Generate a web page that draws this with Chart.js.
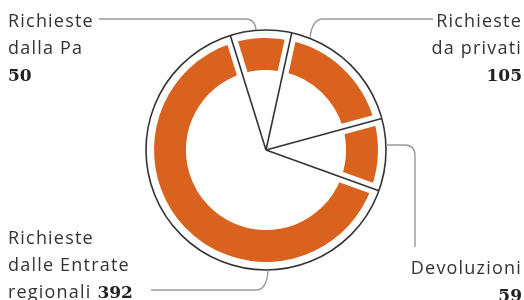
<!DOCTYPE html>
<html>
<head>
<meta charset="utf-8">
<script src="https://cdn.jsdelivr.net/npm/chart.js@4"></script>
<style>
  html, body { margin: 0; padding: 0; background: #fff; overflow: hidden; }
  #wrap { position: relative; width: 524px; height: 300px; }
  .lbl { position: absolute; font-family: "Open Sans", sans-serif; font-size: 18px; line-height: 27px; color: #333; letter-spacing: 1.2px; white-space: nowrap; }
  .lbl b { font-family: "DejaVu Serif", serif; font-weight: bold; font-size: 17px; letter-spacing: 0; color: #222; }
  .right { text-align: right; }
</style>
</head>
<body>
<div id="wrap">
  <canvas id="pieChart" width="524" height="300"></canvas>
  <div class="lbl" style="left:8px; top:7px;">Richieste<br>dalla Pa<br><b>50</b></div>
  <div class="lbl right" style="right:2px; top:7px;">Richieste<br>da privati<br><b>105</b></div>
  <div class="lbl right" style="right:2px; top:254px;">Devoluzioni<br><b>59</b></div>
  <div class="lbl" style="left:8px; top:224px;">Richieste<br>dalle Entrate<br>regionali <b>392</b></div>
</div>
<script>
const categories = ['Richieste dalla Pa', 'Richieste da privati', 'Devoluzioni', 'Richieste dalle Entrate regionali'];
const values = [50, 105, 59, 392];

const R = 120; // outline circle radius

// white pie with dark outline under the ring, white gaps + dividers over it
const outlinePlugin = {
  id: 'outline',
  beforeDatasetsDraw(chart) {
    const arcs = chart.getDatasetMeta(0).data;
    const ctx = chart.ctx;
    ctx.save();
    ctx.beginPath();
    ctx.arc(arcs[0].x, arcs[0].y, R, 0, Math.PI * 2);
    ctx.fillStyle = '#fff';
    ctx.fill();
    ctx.lineWidth = 1.6;
    ctx.strokeStyle = '#333';
    ctx.stroke();
    ctx.restore();
  },
  afterDatasetsDraw(chart) {
    const arcs = chart.getDatasetMeta(0).data;
    const ctx = chart.ctx;
    const cx = arcs[0].x, cy = arcs[0].y;
    ctx.save();
    ctx.lineCap = 'butt';
    ctx.strokeStyle = '#fff';
    ctx.lineWidth = 11;
    arcs.forEach(a => {
      ctx.beginPath();
      ctx.moveTo(cx, cy);
      ctx.lineTo(cx + (R - 4) * Math.cos(a.startAngle), cy + (R - 4) * Math.sin(a.startAngle));
      ctx.stroke();
    });
    ctx.strokeStyle = '#333';
    ctx.lineWidth = 1.6;
    arcs.forEach(a => {
      ctx.beginPath();
      ctx.moveTo(cx, cy);
      ctx.lineTo(cx + R * Math.cos(a.startAngle), cy + R * Math.sin(a.startAngle));
      ctx.stroke();
    });
    ctx.restore();
  },
  afterDraw(chart) {
    const ctx = chart.ctx;
    ctx.save();
    ctx.strokeStyle = '#999';
    ctx.lineWidth = 1.4;
    // Richieste dalla Pa
    ctx.beginPath();
    ctx.moveTo(99, 19);
    ctx.lineTo(246, 19);
    ctx.quadraticCurveTo(255, 19, 256, 30);
    ctx.stroke();
    // Richieste da privati
    ctx.beginPath();
    ctx.moveTo(310, 38);
    ctx.quadraticCurveTo(312, 19, 323, 19);
    ctx.lineTo(433, 19);
    ctx.stroke();
    // Devoluzioni
    ctx.beginPath();
    ctx.moveTo(386, 145);
    ctx.lineTo(405, 145);
    ctx.quadraticCurveTo(415, 145, 415, 156);
    ctx.lineTo(415, 247);
    ctx.stroke();
    // Entrate regionali
    ctx.beginPath();
    ctx.moveTo(268, 270);
    ctx.quadraticCurveTo(267, 290, 256, 290);
    ctx.lineTo(151, 290);
    ctx.stroke();
    ctx.restore();
  }
};

new Chart(document.getElementById('pieChart').getContext('2d'), {
  type: 'doughnut',
  data: {
    labels: categories,
    datasets: [{
      data: values,
      backgroundColor: '#d9621f',
      borderWidth: 0,
      radius: 112,
      cutout: '71.5%'
    }]
  },
  options: {
    responsive: false,
    animation: false,
    rotation: -17.3,
    layout: { padding: { left: 8 } },
    plugins: { legend: { display: false }, tooltip: { enabled: false } }
  },
  plugins: [outlinePlugin]
});
</script>
</body>
</html>
